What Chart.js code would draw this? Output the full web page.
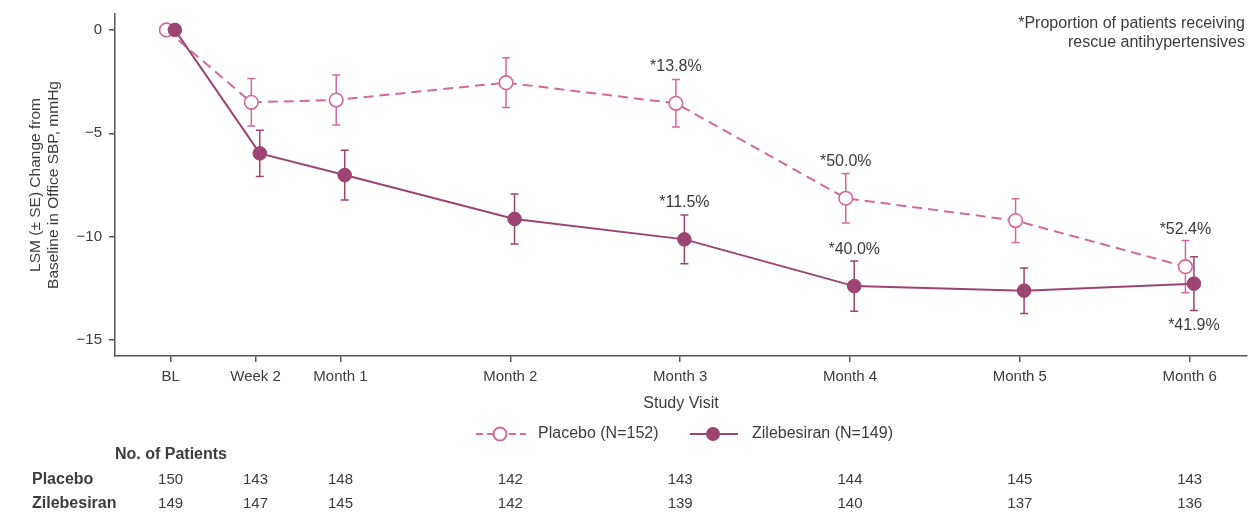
<!DOCTYPE html>
<html>
<head>
<meta charset="utf-8">
<script src="https://cdn.jsdelivr.net/npm/chart.js@4"></script>
<style>
  html, body { margin: 0; padding: 0; background: #fff; }
  #wrap { width: 1248px; height: 512px; }
</style>
</head>
<body>
<div id="wrap"><canvas id="chart"></canvas></div>
<script>
// study visits, placed on a week scale (BL = week 0)
const visitLabels = ["BL", "Week 2", "Month 1", "Month 2", "Month 3", "Month 4", "Month 5", "Month 6"];
const visitWeeks = [0, 2, 4, 8, 12, 16, 20, 24];

// LSM change from baseline in office SBP (mmHg) and its SE
const placeboMean = [0, -3.50, -3.39, -2.55, -3.55, -8.14, -9.22, -11.45];
const placeboSE = [0, 1.15, 1.21, 1.20, 1.15, 1.20, 1.06, 1.26];
const zileMean = [0, -5.97, -7.02, -9.14, -10.13, -12.39, -12.61, -12.27];
const zileSE = [0, 1.12, 1.20, 1.21, 1.18, 1.22, 1.10, 1.30];

const yTicks = [0, -5, -10, -15];

// number of patients at each visit
const placeboN = [150, 143, 148, 142, 143, 144, 145, 143];
const zileN = [149, 147, 145, 142, 139, 140, 137, 136];

// proportion receiving rescue antihypertensives
const placeboRescue = [null, null, null, null, "*13.8%", "*50.0%", null, "*52.4%"];
const zileRescue = [null, null, null, null, "*11.5%", "*40.0%", null, "*41.9%"];

const PINK = "#d4689d";
const PLUM = "#9c4472";
const TEXT = "#3c3c3c";
const AXIS = "#555555";
const FONT = "'Liberation Sans', Arial, sans-serif";

function points(means, shift) {
    return means.map((v, i) => ({x: visitWeeks[i] + shift, y: v}));
}

// vertical +/- SE bars with small caps, drawn under the markers
const errorBars = {
    id: "errorBars",
    beforeDatasetsDraw(chart) {
        const ctx = chart.ctx;
        const y = chart.scales.y;
        chart.data.datasets.forEach((ds, di) => {
            const meta = chart.getDatasetMeta(di);
            ctx.save();
            ctx.strokeStyle = ds.borderColor;
            ctx.lineWidth = 1.5;
            meta.data.forEach((pt, i) => {
                const se = ds.se[i];
                if (!se) return;
                const top = y.getPixelForValue(ds.data[i].y + se);
                const bot = y.getPixelForValue(ds.data[i].y - se);
                ctx.beginPath();
                ctx.moveTo(pt.x, top); ctx.lineTo(pt.x, bot);
                ctx.moveTo(pt.x - 4, top); ctx.lineTo(pt.x + 4, top);
                ctx.moveTo(pt.x - 4, bot); ctx.lineTo(pt.x + 4, bot);
                ctx.stroke();
            });
            ctx.restore();
        });
    }
};

// text bits: rescue labels, footnote, legend and the patients table
const extras = {
    id: "extras",
    afterDraw(chart) {
        const ctx = chart.ctx;
        const xs = chart.scales.x;
        ctx.save();
        ctx.fillStyle = TEXT;
        ctx.textBaseline = "middle";

        // rescue percentages
        ctx.font = "16px " + FONT;
        ctx.textAlign = "center";
        chart.data.datasets.forEach((ds, di) => {
            const meta = chart.getDatasetMeta(di);
            ds.rescue.forEach((txt, i) => {
                if (!txt) return;
                const pt = meta.data[i];
                let dy = -37;
                if (di === 1 && i === visitWeeks.length - 1) dy = 42;
                ctx.fillText(txt, pt.x, pt.y + dy);
            });
        });

        // footnote
        ctx.textAlign = "right";
        ctx.fillText("*Proportion of patients receiving", 1245, 24);
        ctx.fillText("rescue antihypertensives", 1245, 43);

        // legend
        const ly = 434;
        ctx.lineWidth = 2;
        ctx.strokeStyle = PINK;
        ctx.setLineDash([7, 4]);
        ctx.beginPath(); ctx.moveTo(476, ly); ctx.lineTo(526, ly); ctx.stroke();
        ctx.setLineDash([]);
        ctx.fillStyle = "#fff";
        ctx.beginPath(); ctx.arc(500, ly, 6.5, 0, Math.PI * 2); ctx.fill(); ctx.stroke();
        ctx.strokeStyle = PLUM;
        ctx.beginPath(); ctx.moveTo(690, ly); ctx.lineTo(738, ly); ctx.stroke();
        ctx.fillStyle = PLUM;
        ctx.beginPath(); ctx.arc(713, ly, 7, 0, Math.PI * 2); ctx.fill();
        ctx.fillStyle = TEXT;
        ctx.textAlign = "left";
        ctx.fillText("Placebo (N=152)", 538, ly);
        ctx.fillText("Zilebesiran (N=149)", 752, ly);

        // no. of patients table
        ctx.font = "bold 16px " + FONT;
        ctx.fillText("No. of Patients", 115, 455);
        ctx.fillText("Placebo", 32, 480);
        ctx.fillText("Zilebesiran", 32, 504);
        ctx.font = "15px " + FONT;
        ctx.textAlign = "center";
        visitWeeks.forEach((w, i) => {
            const px = xs.getPixelForValue(w);
            ctx.fillText(String(placeboN[i]), px, 480);
            ctx.fillText(String(zileN[i]), px, 504);
        });
        ctx.restore();
    }
};

new Chart(document.getElementById("chart"), {
    type: "line",
    data: {
        datasets: [
            {
                label: "Placebo (N=152)",
                data: points(placeboMean, -0.1),
                se: placeboSE,
                rescue: placeboRescue,
                borderColor: PINK,
                borderWidth: 2,
                borderDash: [10, 6],
                pointRadius: 6.8,
                pointBorderWidth: 1.6,
                pointBackgroundColor: "#fff",
                pointBorderColor: PINK,
                order: 1
            },
            {
                label: "Zilebesiran (N=149)",
                data: points(zileMean, 0.1),
                se: zileSE,
                rescue: zileRescue,
                borderColor: PLUM,
                borderWidth: 2,
                pointRadius: 6.8,
                pointBorderWidth: 1,
                pointBackgroundColor: PLUM,
                pointBorderColor: PLUM,
                order: 0
            }
        ]
    },
    options: {
        responsive: true,
        maintainAspectRatio: false,
        animation: false,
        layout: {autoPadding: false, padding: {top: 14, right: 1, left: 0, bottom: 0}},
        plugins: {legend: {display: false}, tooltip: {enabled: false}},
        scales: {
            x: {
                type: "linear",
                min: -1.31,
                max: 25.35,
                afterBuildTicks: s => { s.ticks = visitWeeks.map(v => ({value: v})); },
                afterFit: s => { s.height = 156; s.paddingLeft = 0; s.paddingRight = 0; },
                ticks: {
                    autoSkip: false, maxRotation: 0, padding: 6,
                    color: TEXT, font: {family: FONT, size: 15},
                    callback: v => visitLabels[visitWeeks.indexOf(v)]
                },
                grid: {display: true, drawOnChartArea: false, drawTicks: true, tickLength: 6, color: AXIS, lineWidth: 1.5},
                border: {display: true, color: AXIS, width: 1.5},
                title: {
                    display: true, text: "Study Visit", color: TEXT,
                    font: {family: FONT, size: 16}, padding: {top: 0, bottom: 99}
                }
            },
            y: {
                min: -15.77,
                max: 0.77,
                afterBuildTicks: s => { s.ticks = yTicks.map(v => ({value: v})); },
                afterFit: s => { s.width = 115; s.paddingTop = 0; s.paddingBottom = 0; },
                ticks: {
                    padding: 7, color: TEXT, font: {family: FONT, size: 15},
                    callback: v => v === 0 ? "0" : "\u2212" + Math.abs(v)
                },
                grid: {display: true, drawOnChartArea: false, drawTicks: true, tickLength: 6, color: AXIS, lineWidth: 1.5},
                border: {display: true, color: AXIS, width: 1.5},
                title: {
                    display: true,
                    text: ["LSM (\u00b1 SE) Change from", "Baseline in Office SBP, mmHg"],
                    color: TEXT, font: {family: FONT, size: 15.5, lineHeight: 1.2},
                    padding: {top: 26, bottom: 0}
                }
            }
        }
    },
    plugins: [errorBars, extras]
});
</script>
</body>
</html>
